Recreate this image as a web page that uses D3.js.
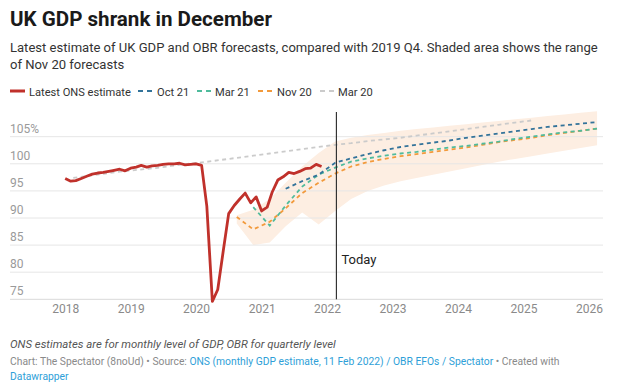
<!DOCTYPE html>
<html><head><meta charset="utf-8">
<script src="https://cdn.jsdelivr.net/npm/d3@7"></script>
<style>
html,body{margin:0;padding:0;background:#fff;}
svg{display:block;font-family:Roboto,"Noto Sans",sans-serif;}
</style></head>
<body>
<svg id="chart" width="620" height="389"></svg>
<script>
// ---------- data ----------
const onsMonths = [
 "2018-01","2018-02","2018-03","2018-04","2018-05","2018-06","2018-07","2018-08","2018-09","2018-10","2018-11","2018-12",
 "2019-01","2019-02","2019-03","2019-04","2019-05","2019-06","2019-07","2019-08","2019-09","2019-10","2019-11","2019-12",
 "2020-01","2020-02","2020-03","2020-04","2020-05","2020-06","2020-07","2020-08","2020-09","2020-10","2020-11","2020-12",
 "2021-01","2021-02","2021-03","2021-04","2021-05","2021-06","2021-07","2021-08","2021-09","2021-10","2021-11","2021-12"];
const onsValues = [
 97.3,96.8,96.9,97.3,97.7,98.1,98.3,98.4,98.6,98.8,99.0,98.7,
 99.2,99.4,99.7,99.4,99.6,99.7,99.9,100.0,100.0,100.1,99.8,99.9,
 100.0,99.7,92.2,74.6,76.8,84.0,90.8,92.3,93.5,94.6,92.8,93.9,
 91.3,92.0,94.8,97.0,97.6,98.4,98.2,98.6,99.1,99.2,99.9,99.5];

const mar20Quarters = [
 "2018 Q1","2018 Q2","2018 Q3","2018 Q4","2019 Q1","2019 Q2","2019 Q3","2019 Q4",
 "2020 Q1","2020 Q2","2020 Q3","2020 Q4","2021 Q1","2021 Q2","2021 Q3","2021 Q4",
 "2022 Q1","2022 Q2","2022 Q3","2022 Q4","2023 Q1","2023 Q2","2023 Q3","2023 Q4",
 "2024 Q1","2024 Q2","2024 Q3","2024 Q4","2025 Q1"];
const mar20Values = [
 97.4,97.8,98.2,98.6,98.9,99.2,99.6,100.0,
 100.3,100.7,101.1,101.5,101.9,102.3,102.7,103.1,
 103.5,103.8,104.2,104.5,104.8,105.2,105.6,106.0,
 106.4,106.8,107.2,107.6,108.0];

const nov20Quarters = [
 "2020 Q3","2020 Q4","2021 Q1","2021 Q2","2021 Q3","2021 Q4",
 "2022 Q1","2022 Q2","2022 Q3","2022 Q4","2023 Q1","2023 Q2","2023 Q3","2023 Q4",
 "2024 Q1","2024 Q2","2024 Q3","2024 Q4","2025 Q1","2025 Q2","2025 Q3","2025 Q4","2026 Q1"];
const nov20Values = [
 90.2,87.9,89.3,91.8,94.6,96.5,
 98.2,99.5,100.3,100.9,101.4,101.8,102.2,102.6,
 103.0,103.5,104.0,104.4,104.8,105.3,105.7,106.1,106.5];
const nov20Upper = [
 90.5,91.5,93.5,96.5,99.5,102.0,
 104.1,104.8,105.3,105.7,106.1,106.4,106.7,107.0,
 107.3,107.6,107.9,108.2,108.5,108.8,109.1,109.4,109.7];
const nov20Lower = [
 89.0,85.0,85.5,88.5,91.0,88.8,
 91.3,93.5,95.0,96.0,96.8,97.4,98.0,98.6,
 99.2,99.8,100.4,100.9,101.4,101.9,102.4,102.9,103.4];

const mar21Quarters = [
 "2020 Q4","2021 Q1","2021 Q2","2021 Q3","2021 Q4",
 "2022 Q1","2022 Q2","2022 Q3","2022 Q4","2023 Q1","2023 Q2","2023 Q3","2023 Q4",
 "2024 Q1","2024 Q2","2024 Q3","2024 Q4","2025 Q1","2025 Q2","2025 Q3","2025 Q4","2026 Q1"];
const mar21Values = [
 92.0,88.6,92.3,95.8,98.0,
 99.3,100.4,101.0,101.5,101.9,102.2,102.6,103.0,
 103.3,103.7,104.1,104.6,105.0,105.4,105.8,106.1,106.5];

const oct21Quarters = [
 "2021 Q2","2021 Q3","2021 Q4",
 "2022 Q1","2022 Q2","2022 Q3","2022 Q4","2023 Q1","2023 Q2","2023 Q3","2023 Q4",
 "2024 Q1","2024 Q2","2024 Q3","2024 Q4","2025 Q1","2025 Q2","2025 Q3","2025 Q4","2026 Q1"];
const oct21Values = [
 95.4,96.8,98.0,
 100.2,101.0,101.8,102.5,103.1,103.5,103.9,104.3,
 104.8,105.2,105.6,106.0,106.4,106.8,107.1,107.4,107.7];

const yTicks = [75,80,85,90,95,100,105];
const xTickYears = [2018,2019,2020,2021,2022,2023,2024,2025,2026];
const todayDate = "2022-02-22";

const legendItems = [
 {name:"Latest ONS estimate", key:"ons"},
 {name:"Oct 21", key:"oct21"},
 {name:"Mar 21", key:"mar21"},
 {name:"Nov 20", key:"nov20"},
 {name:"Mar 20", key:"mar20"}];

// ---------- setup ----------
const colors = {ons:"#c0312b", oct21:"#33739a", mar21:"#4fbb9c", nov20:"#f29a3c", mar20:"#cbcbcb", shade:"#fdeee2"};
const svg = d3.select("#chart");
const parseMonth = d3.timeParse("%Y-%m");
const parseDay = d3.timeParse("%Y-%m-%d");
const quarterDate = s => { const [yr,q] = s.split(" Q"); return new Date(+yr, (+q-1)*3+1, 15); };

// scale a text's font-size so its rendered width matches a target width
function fitWidth(sel, target) {
  const node = sel.node();
  const w = node.getComputedTextLength();
  const fs = parseFloat(sel.attr("font-size"));
  if (w > 0) sel.attr("font-size", (fs * target / w).toFixed(2));
  return parseFloat(sel.attr("font-size"));
}

const x = d3.scaleTime().domain([new Date(2018,0,1), new Date(2026,0,1)]).range([65.2, 589]);
const y = d3.scaleLinear().domain([75,105]).range([299.3,136.7]);
const gridX0 = 10, gridX1 = 603;

// title & subtitle
const title = svg.append("text").attr("x",10).attr("y",26).attr("font-size",20).attr("font-weight",700).attr("fill","#1a1a1a").text("UK GDP shrank in December");
fitWidth(title, 262);
const sub1 = svg.append("text").attr("x",10).attr("y",52).attr("font-size",14).attr("fill","#333")
  .text("Latest estimate of UK GDP and OBR forecasts, compared with 2019 Q4. Shaded area shows the range");
const subSize = fitWidth(sub1, 588);
svg.append("text").attr("x",10).attr("y",69).attr("font-size",subSize).attr("fill","#333").text("of Nov 20 forecasts");

// legend
const lg = svg.append("g").attr("fill","#333");
const legendX = {ons:10, oct21:138, mar21:197, nov20:258, mar20:320};
const legendTextX = {ons:29, oct21:157, mar21:215, nov20:277, mar20:338};
let legendSize = 12;
legendItems.forEach(it => {
  const x0 = legendX[it.key];
  if (it.key === "ons") {
    lg.append("line").attr("x1",x0).attr("x2",x0+15).attr("y1",91).attr("y2",91).attr("stroke",colors.ons).attr("stroke-width",3);
  } else {
    lg.append("line").attr("x1",x0).attr("x2",x0+14).attr("y1",91).attr("y2",91).attr("stroke",colors[it.key]).attr("stroke-width",2).attr("stroke-dasharray","5,4");
  }
  const t = lg.append("text").attr("x",legendTextX[it.key]).attr("y",95.5).attr("font-size",legendSize).text(it.name);
  if (it.key === "ons") legendSize = fitWidth(t, 102);
});

// shaded range
const shade = nov20Quarters.map((q,i)=>({d:quarterDate(q), lo:nov20Lower[i], hi:nov20Upper[i]}));
svg.append("path").datum(shade).attr("fill",colors.shade)
  .attr("d", d3.area().x(d=>x(d.d)).y0(d=>y(d.lo)).y1(d=>y(d.hi)));

// gridlines & y labels
const grid = svg.append("g");
yTicks.forEach(t => {
  grid.append("line").attr("x1",gridX0).attr("x2",gridX1).attr("y1",y(t)).attr("y2",y(t))
    .attr("stroke", t===75 ? "#d9d9d9" : "#e6e6e6").attr("stroke-width",1);
  grid.append("text").attr("x",gridX0).attr("y",y(t)-4).attr("font-size",12).attr("fill","#9a9a9a")
    .text(t===105 ? "105%" : t);
});

// x axis labels
const xAxis = d3.axisBottom(x).tickValues(xTickYears.map(yr=>new Date(yr,0,1))).tickFormat(d3.timeFormat("%Y")).tickSize(0).tickPadding(0);
const xg = svg.append("g").attr("transform","translate(0,303)").call(xAxis);
xg.select(".domain").remove();
xg.selectAll("text").attr("font-size",12).attr("fill","#8a8a8a").attr("font-family","Roboto").attr("dy","0.8em");

// lines
const line = d3.line().x(d=>x(d.d)).y(d=>y(d.v));
const addDashed = (qs, vals, col) => {
  svg.append("path").datum(qs.map((q,i)=>({d:quarterDate(q), v:vals[i]})))
    .attr("fill","none").attr("stroke",col).attr("stroke-width",1.8).attr("stroke-dasharray","4,3.5").attr("d",line);
};
addDashed(mar20Quarters, mar20Values, colors.mar20);
addDashed(nov20Quarters, nov20Values, colors.nov20);
addDashed(mar21Quarters, mar21Values, colors.mar21);
addDashed(oct21Quarters, oct21Values, colors.oct21);

svg.append("path").datum(onsMonths.map((m,i)=>({d:parseMonth(m), v:onsValues[i]})))
  .attr("fill","none").attr("stroke",colors.ons).attr("stroke-width",2.8).attr("stroke-linejoin","round").attr("d",line);

// today
const tx = x(parseDay(todayDate));
svg.append("line").attr("x1",tx).attr("x2",tx).attr("y1",112).attr("y2",y(75)).attr("stroke","#333").attr("stroke-width",1.2);
const todayT = svg.append("text").attr("x",tx+5).attr("y",264).attr("font-size",14).attr("fill","#222").text("Today");
fitWidth(todayT, 35);

// footer
const note = svg.append("text").attr("x",10).attr("y",348).attr("font-size",11.5).attr("font-style","italic").attr("fill","#555")
  .text("ONS estimates are for monthly level of GDP, OBR for quarterly level");
fitWidth(note, 326);
const f = svg.append("text").attr("x",10).attr("y",365).attr("font-size",11).attr("fill","#8a8a8a");
f.append("tspan").text("Chart: The Spectator (8noUd) • Source: ");
f.append("tspan").attr("fill","#2f9fd8").text("ONS (monthly GDP estimate, 11 Feb 2022) / OBR EFOs / Spectator");
f.append("tspan").text(" • Created with");
const footSize = fitWidth(f, 550);
svg.append("text").attr("x",10).attr("y",380).attr("font-size",footSize).attr("fill","#2f9fd8").text("Datawrapper");
</script>
</body></html>
